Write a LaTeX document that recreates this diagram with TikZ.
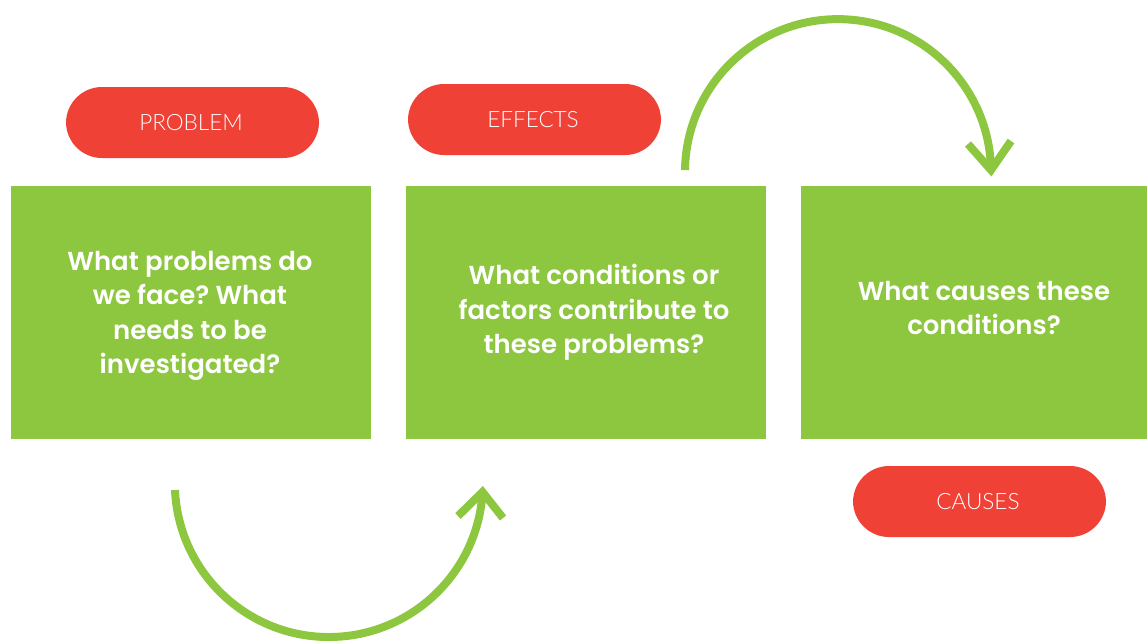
\documentclass[tikz,border=0pt]{standalone}
\usepackage{fontspec}
\setmainfont{Lato}
\newfontfamily\pillfont{Lato}[UprightFont={* Light}]
\newfontfamily\cardfont{Poppins}[UprightFont={* SemiBold}]
\definecolor{leaf}{HTML}{8DC63F}
\definecolor{tomato}{HTML}{F04137}
\frenchspacing
\begin{document}
\begin{tikzpicture}[x=1pt,y=1pt,yscale=-1,
  card/.style={fill=leaf,draw=none},
  cardtext/.style={text=white,font=\cardfont\fontsize{26}{34.5}\selectfont,align=center},
  pill/.style={fill=tomato,draw=none,rounded corners=36pt},
  pilltext/.style={text=white,font=\pillfont\fontsize{22.5}{26}\selectfont},
  loop/.style={draw=leaf,line width=8pt},
  chevron/.style={draw=leaf,line width=8pt,line join=miter}]
  \useasboundingbox (0,0) rectangle (1147,641);

  % question cards
  \fill[card] (11,186) rectangle (371,439);
  \fill[card] (406,186) rectangle (766,439);
  \fill[card] (801,186) rectangle (1147,439);
  \node[cardtext] (q1) at (190,316) {What problems do\\we face? What\\needs to be\\investigated?};
  \node[cardtext] (q2) at (594,312.5) {What conditions or\\factors contribute to\\these problems?};
  \node[cardtext] (q3) at (984,308) {What causes these\\conditions?};

  % labels
  \fill[pill] (66,87) rectangle (319,158);
  \fill[pill] (408,84) rectangle (661,155);
  \fill[pill] (853,466) rectangle (1106,537);
  \node[pilltext] (l1) at (191,122.5) {PROBLEM};
  \node[pilltext] (l2) at (533,119.5) {EFFECTS};
  \node[pilltext] (l3) at (978,501.5) {CAUSES};

  % curved arrows
  \coordinate (s1) at (175,490);
  \coordinate (t1) at (482.5,492);
  \coordinate (a1) at (458,516);
  \coordinate (b1) at (503,518);
  \draw[loop] (s1) arc[start angle=177.4, end angle=3.4, radius=154];
  \draw[chevron] (a1) -- (t1) -- (b1);

  \coordinate (s2) at (685,170);
  \coordinate (t2) at (991,170);
  \coordinate (a2) at (968,144);
  \coordinate (b2) at (1011,141);
  \draw[loop] (s2) arc[start angle=180.8, end angle=359.2, radius=153];
  \draw[chevron] (a2) -- (t2) -- (b2);
\end{tikzpicture}
\end{document}
